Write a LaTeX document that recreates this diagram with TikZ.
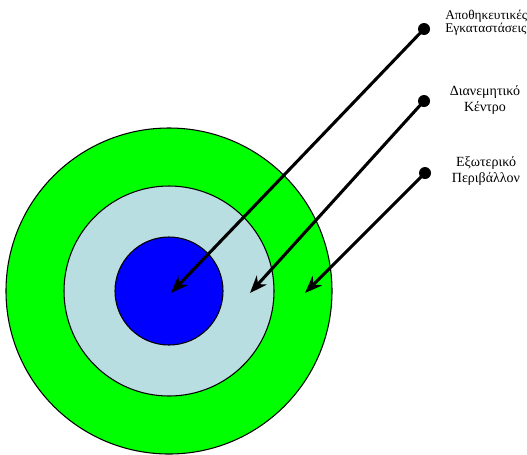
\documentclass[tikz,border=0pt]{standalone}
\usepackage{fontspec}
\setmainfont{Liberation Serif}
\usetikzlibrary{arrows.meta}
\definecolor{ringgreen}{RGB}{0,255,0}
\definecolor{ringpale}{RGB}{185,222,226}
\definecolor{ringblue}{RGB}{0,0,255}
\tikzset{
  ring/.style={draw=black,line width=0.8pt},
  pointer/.style={line width=2.3pt,-{Stealth[length=13pt,width=10pt,inset=4pt]}},
  knob/.style={circle,fill=black,inner sep=0pt,minimum size=9pt},
  tag/.style={align=center,inner sep=0pt,font=\fontsize{10.5}{12}\selectfont}
}
\begin{document}
\begin{tikzpicture}[x=0.75pt,y=-0.75pt]
  \useasboundingbox (0,0) rectangle (527,454);
  \coordinate (O) at (169,291);
  % the three zones
  \draw[ring,fill=ringgreen] (O) circle (163);
  \draw[ring,fill=ringpale] (O) circle (105);
  \draw[ring,fill=ringblue] (O) circle (54);
  % arrow heads end here
  \coordinate (t1) at (171,293);
  \coordinate (t2) at (250,293);
  \coordinate (t3) at (305,293);
  % knobs at the free ends
  \node[knob] (k1) at (424,29) {};
  \node[knob] (k2) at (424,101) {};
  \node[knob] (k3) at (425,173) {};
  \draw[pointer] (k1.center) -- (t1);
  \draw[pointer] (k2.center) -- (t2);
  \draw[pointer] (k3.center) -- (t3);
  \node[tag,font=\fontsize{10}{9.8}\selectfont,anchor=west,align=left] (l1) at (445,23) {Αποθηκευτικές\\Εγκαταστάσεις};
  \node[tag] (l2) at (485,100) {Διανεμητικό\\Κέντρο};
  \node[tag] (l3) at (486,171) {Εξωτερικό\\Περιβάλλον};
\end{tikzpicture}
\end{document}
